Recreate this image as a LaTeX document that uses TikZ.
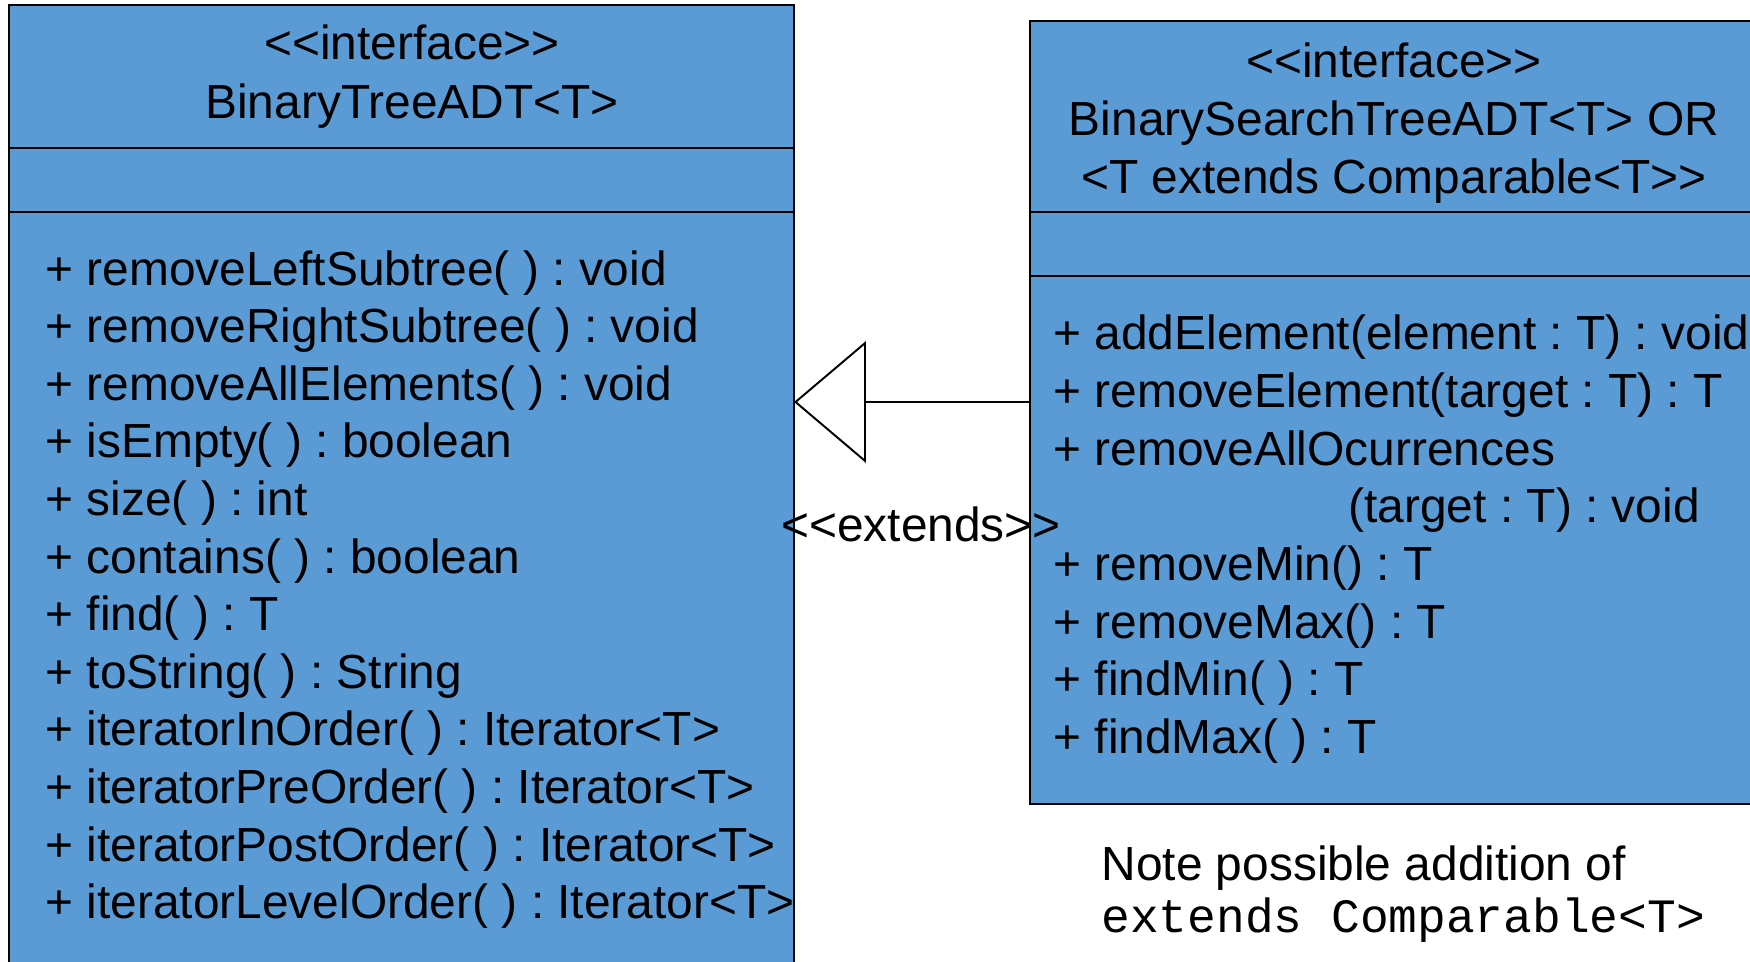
\documentclass[tikz,border=0pt]{standalone}
\usepackage{fontspec}
\setmainfont{Liberation Sans}
\newfontfamily\codefont{Liberation Mono}
\usetikzlibrary{arrows.meta}
\definecolor{umlblue}{RGB}{91,155,213}
\frenchspacing
\tikzset{
  umlbox/.style={draw, line width=1pt, fill=umlblue, inner sep=0pt, outer sep=0pt},
  divider/.style={line width=0.8pt},
  title/.style={anchor=base, inner sep=0pt},
  member/.style={anchor=base west, inner sep=0pt},
  extends/.style={-{Triangle[open, length=29.6pt, width=50pt]}, line width=0.8pt},
}
\begin{document}
\begin{tikzpicture}[x=0.41143pt, y=-0.41143pt, font=\fontsize{19.7}{24}\selectfont]
\path[use as bounding box] (0,0) rectangle (1750,962);
\clip (0,0) rectangle (1750,962);
\fill[white] (0,0) rectangle (1750,962);
% the two interfaces
\node[umlbox, minimum width=323pt, minimum height=413.5pt] (BT) at (401.5,507.5) {};
\draw[divider] (BT.west |- 0,148) -- (BT.east |- 0,148);
\draw[divider] (BT.west |- 0,212) -- (BT.east |- 0,212);
\node[umlbox, minimum width=316.8pt, minimum height=322.2pt] (BST) at (1415,412.5) {};
\draw[divider] (BST.west |- 0,212) -- (BST.east |- 0,212);
\draw[divider] (BST.west |- 0,276) -- (BST.east |- 0,276);
% BinaryTreeADT
\node[title] (BT_0) at (412,60) {<{}<interface>{}>};
\node[title] (BT_1) at (412,118) {BinaryTreeADT<T>};
\node[member] (L_0) at (45,285) {+ removeLeftSubtree( ) : void};
\node[member] (L_1) at (45,342.6) {+ removeRightSubtree( ) : void};
\node[member] (L_2) at (45,400.2) {+ removeAllElements( ) : void};
\node[member] (L_3) at (45,457.8) {+ isEmpty( ) : boolean};
\node[member] (L_4) at (45,515.4) {+ size( ) : int};
\node[member] (L_5) at (45,573) {+ contains( ) : boolean};
\node[member] (L_6) at (45,630.6) {+ find( ) : T};
\node[member] (L_7) at (45,688.2) {+ toString( ) : String};
\node[member] (L_8) at (45,745.8) {+ iteratorInOrder( ) : Iterator<T>};
\node[member] (L_9) at (45,803.4) {+ iteratorPreOrder( ) : Iterator<T>};
\node[member] (L_10) at (45,861) {+ iteratorPostOrder( ) : Iterator<T>};
\node[member] (L_11) at (45,918.6) {+ iteratorLevelOrder( ) : Iterator<T>};
% BinarySearchTreeADT
\node[title] (BST_0) at (1394,77) {<{}<interface>{}>};
\node[title] (BST_1) at (1394,135) {BinarySearchTreeADT<T> OR};
\node[title] (BST_2) at (1394,193) {<T extends Comparable<T>{}>};
\node[member] (R_0) at (1053,349) {+ addElement(element : T) : void};
\node[member] (R_1) at (1053,407) {+ removeElement(target : T) : T};
\node[member] (R_2) at (1053,465) {+ removeAllOcurrences};
\node[member] (R_2b) at (1348,522) {(target : T) : void};
\node[member] (R_3) at (1053,580) {+ removeMin() : T};
\node[member] (R_4) at (1053,638) {+ removeMax() : T};
\node[member] (R_5) at (1053,695) {+ findMin( ) : T};
\node[member] (R_6) at (1053,753) {+ findMax( ) : T};
% generalisation
\coordinate (tip) at (794,402);
\draw[extends] (BST.west |- tip) -- (tip);
\node[title] (ext) at (921,541) {<{}<extends>{}>};
% note
\node[member] (note_0) at (1101,880) {Note possible addition of};
\node[member] (note_1) at (1101,932) {\codefont extends Comparable<T>};
\end{tikzpicture}
\end{document}
